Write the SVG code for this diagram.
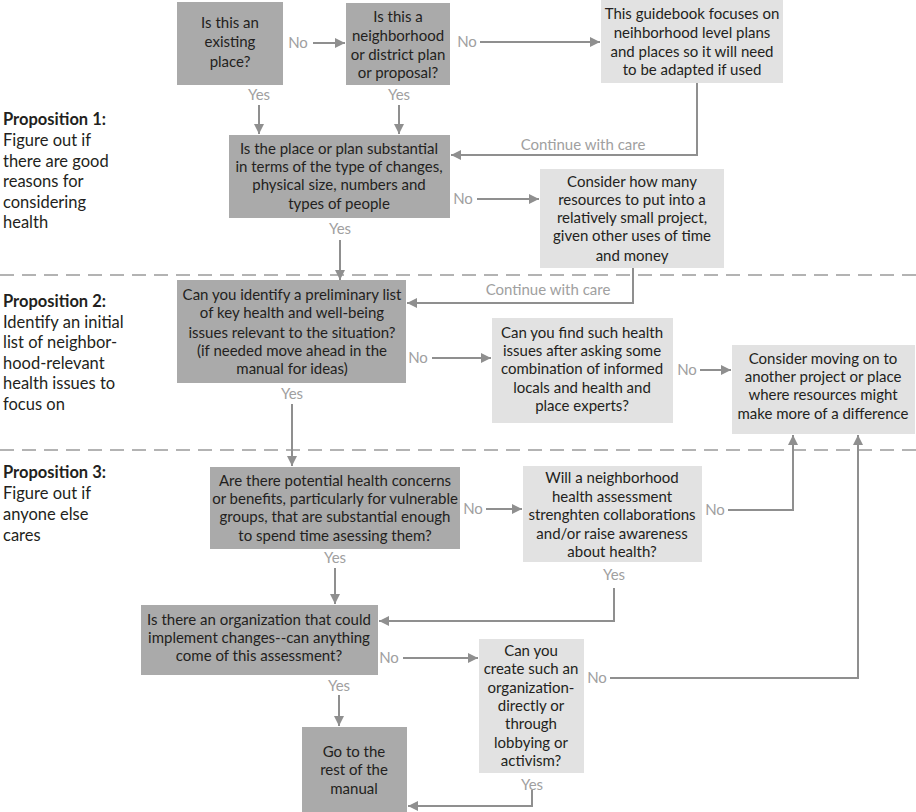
<svg xmlns="http://www.w3.org/2000/svg" width="916" height="812" viewBox="0 0 916 812">
<defs>
<marker id="ah" viewBox="0 0 10 10" refX="10" refY="5" markerWidth="10" markerHeight="10" markerUnits="userSpaceOnUse" orient="auto">
<path d="M0,0 L10,5 L0,10 z" fill="#8f8f8f"/>
</marker>
<style>
.dk{fill:#aaaaaa}
.lt{fill:#e2e2e2}
.t{font-family:Lato,"Open Sans","Liberation Sans",sans-serif;font-size:15px;fill:#231f20;text-anchor:middle}
.lb{font-family:Lato,"Open Sans","Liberation Sans",sans-serif;font-size:15px;fill:#a0a0a0;text-anchor:middle}
.p{font-family:Lato,"Open Sans","Liberation Sans",sans-serif;font-size:16.5px;fill:#231f20}
.pb{font-weight:bold}
.c{fill:none;stroke:#8f8f8f;stroke-width:2}
.ca{fill:none;stroke:#8f8f8f;stroke-width:2;marker-end:url(#ah)}
.dash{stroke:#9a9a9a;stroke-width:1.5;stroke-dasharray:14 8}
</style>
</defs>
<rect width="916" height="812" fill="#ffffff"/>
<g id="dividers">
<line class="dash" x1="0" y1="275" x2="916" y2="275"/>
<line class="dash" x1="0" y1="450" x2="916" y2="450"/>
</g>
<g id="propositions">
<text class="p" x="3"><tspan class="pb" x="3" y="125">Proposition 1:</tspan><tspan x="3" y="146">Figure out if</tspan><tspan x="3" y="166.5">there are good</tspan><tspan x="3" y="187">reasons for</tspan><tspan x="3" y="207.5">considering</tspan><tspan x="3" y="228">health</tspan></text>
<text class="p" x="3"><tspan class="pb" x="3" y="307">Proposition 2:</tspan><tspan x="3" y="327.5">Identify an initial</tspan><tspan x="3" y="348">list of neighbor-</tspan><tspan x="3" y="368.5">hood-relevant</tspan><tspan x="3" y="389">health issues to</tspan><tspan x="3" y="409.5">focus on</tspan></text>
<text class="p" x="3"><tspan class="pb" x="3" y="478">Proposition 3:</tspan><tspan x="3" y="499">Figure out if</tspan><tspan x="3" y="520">anyone else</tspan><tspan x="3" y="541">cares</tspan></text>
</g>
<g id="connectors">
<line class="ca" x1="313" y1="43" x2="345" y2="43"/>
<text class="lb" x="298" y="48">No</text>
<line class="ca" x1="480" y1="42" x2="600" y2="42"/>
<text class="lb" x="467" y="47">No</text>
<line class="ca" x1="259" y1="105" x2="259" y2="134"/>
<text class="lb" x="259" y="100">Yes</text>
<line class="ca" x1="399" y1="105" x2="399" y2="134"/>
<text class="lb" x="399" y="100">Yes</text>
<path class="ca" d="M697,83 V155 H451"/>
<text class="lb" x="583" y="150">Continue with care</text>
<line class="ca" x1="477" y1="199" x2="539" y2="199"/>
<text class="lb" x="463" y="204">No</text>
<line class="ca" x1="340" y1="240" x2="340" y2="280"/>
<text class="lb" x="340" y="234">Yes</text>
<path class="ca" d="M633,268 V303 H407"/>
<text class="lb" x="548" y="295">Continue with care</text>
<line class="ca" x1="432" y1="358" x2="491" y2="358"/>
<text class="lb" x="418" y="363">No</text>
<line class="ca" x1="700" y1="370" x2="731" y2="370"/>
<text class="lb" x="687" y="375">No</text>
<line class="ca" x1="292" y1="404" x2="292" y2="466"/>
<text class="lb" x="292" y="399">Yes</text>
<line class="ca" x1="486" y1="509" x2="522" y2="509"/>
<text class="lb" x="473" y="514">No</text>
<path class="ca" d="M728,510 H793 V435"/>
<text class="lb" x="715" y="515">No</text>
<path class="ca" d="M614,588 V621 H379"/>
<text class="lb" x="614" y="580">Yes</text>
<line class="ca" x1="335" y1="568" x2="335" y2="604"/>
<text class="lb" x="335" y="563">Yes</text>
<line class="ca" x1="403" y1="658" x2="478" y2="658"/>
<text class="lb" x="389" y="663">No</text>
<path class="ca" d="M610,678 H858 V435"/>
<text class="lb" x="597" y="683">No</text>
<line class="ca" x1="339" y1="695" x2="339" y2="726"/>
<text class="lb" x="339" y="691">Yes</text>
<path class="ca" d="M532,790 V806 H408"/>
<text class="lb" x="532" y="790">Yes</text>
</g>
<g id="n1"><rect class="dk" x="177" y="2" width="106" height="83"/>
<text class="t"><tspan x="230" y="28">Is this an</tspan><tspan x="230" y="47">existing</tspan><tspan x="230" y="67">place?</tspan></text></g>
<g id="n2"><rect class="dk" x="346" y="3" width="104" height="82"/>
<text class="t"><tspan x="398" y="22">Is this a</tspan><tspan x="398" y="41">neighborhood</tspan><tspan x="398" y="60">or district plan</tspan><tspan x="398" y="78">or proposal?</tspan></text></g>
<g id="n3"><rect class="lt" x="601" y="0" width="182" height="83"/>
<text class="t"><tspan x="692" y="19">This guidebook focuses on</tspan><tspan x="692" y="38">neihborhood level plans</tspan><tspan x="692" y="57">and places so it will need</tspan><tspan x="692" y="75">to be adapted if used</tspan></text></g>
<g id="n4"><rect class="dk" x="229" y="135" width="221" height="83"/>
<text class="t"><tspan x="339" y="154">Is the place or plan substantial</tspan><tspan x="339" y="172">in terms of the type of changes,</tspan><tspan x="339" y="190">physical size, numbers and</tspan><tspan x="339" y="209">types of people</tspan></text></g>
<g id="n5"><rect class="lt" x="540" y="169" width="184" height="99"/>
<text class="t"><tspan x="632" y="187">Consider how many</tspan><tspan x="632" y="205">resources to put into a</tspan><tspan x="632" y="223">relatively small project,</tspan><tspan x="632" y="241">given other uses of time</tspan><tspan x="632" y="261">and money</tspan></text></g>
<g id="n6"><rect class="dk" x="177" y="280" width="229" height="103"/>
<text class="t"><tspan x="292" y="300">Can you identify a preliminary list</tspan><tspan x="292" y="318">of key health and well-being</tspan><tspan x="292" y="338">issues relevant to the situation?</tspan><tspan x="292" y="356">(if needed move ahead in the</tspan><tspan x="292" y="374">manual for ideas)</tspan></text></g>
<g id="n7"><rect class="lt" x="492" y="318" width="181" height="105"/>
<text class="t"><tspan x="582" y="338">Can you find such health</tspan><tspan x="582" y="356">issues after asking some</tspan><tspan x="582" y="374">combination of informed</tspan><tspan x="582" y="393">locals and health and</tspan><tspan x="582" y="411">place experts?</tspan></text></g>
<g id="n8"><rect class="lt" x="732" y="345" width="183" height="89"/>
<text class="t"><tspan x="823" y="364">Consider moving on to</tspan><tspan x="823" y="382">another project or place</tspan><tspan x="823" y="400">where resources might</tspan><tspan x="823" y="419">make more of a difference</tspan></text></g>
<g id="n9"><rect class="dk" x="210" y="467" width="250" height="82"/>
<text class="t"><tspan x="335" y="486">Are there potential health concerns</tspan><tspan x="335" y="504">or benefits, particularly for vulnerable</tspan><tspan x="335" y="522">groups, that are substantial enough</tspan><tspan x="335" y="541">to spend time asessing them?</tspan></text></g>
<g id="n10"><rect class="lt" x="523" y="466" width="179" height="96"/>
<text class="t"><tspan x="612" y="483">Will a neighborhood</tspan><tspan x="612" y="502">health assessment</tspan><tspan x="612" y="520">strenghten collaborations</tspan><tspan x="612" y="539">and/or raise awareness</tspan><tspan x="612" y="557">about health?</tspan></text></g>
<g id="n11"><rect class="dk" x="141" y="605" width="237" height="70"/>
<text class="t"><tspan x="259" y="625">Is there an organization that could</tspan><tspan x="259" y="643">implement changes--can anything</tspan><tspan x="259" y="661">come of this assessment?</tspan></text></g>
<g id="n12"><rect class="lt" x="479" y="639" width="105" height="134"/>
<text class="t"><tspan x="531" y="656">Can you</tspan><tspan x="531" y="674">create such an</tspan><tspan x="531" y="693">organization-</tspan><tspan x="531" y="711">directly or</tspan><tspan x="531" y="729">through</tspan><tspan x="531" y="748">lobbying or</tspan><tspan x="531" y="766">activism?</tspan></text></g>
<g id="n13"><rect class="dk" x="302" y="727" width="105" height="85"/>
<text class="t"><tspan x="354" y="757">Go to the</tspan><tspan x="354" y="775">rest of the</tspan><tspan x="354" y="794">manual</tspan></text></g>
</svg>
